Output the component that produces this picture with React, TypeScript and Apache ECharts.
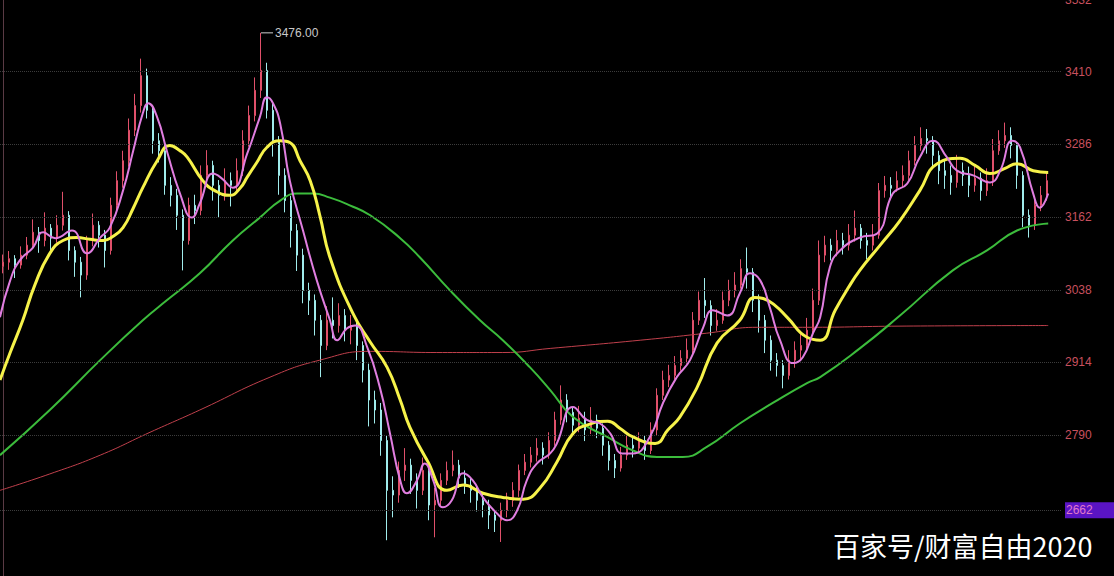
import React, { useEffect, useRef } from "react";
import * as echarts from "echarts";

// Right-axis tick labels (price)
const yTicks = [3532, 3410, 3286, 3162, 3038, 2914, 2790, 2662];
const gridValues = [3410, 3286, 3162, 3038, 2914, 2790, 2662];
const lowMarkValue = 2662;
const yMin = 2550;
const yMax = 3532;
const slotCount = 177;
const peakIndex = 43;
const peakValue = 3476;
const watermark = "百家号/财富自由2020";

// Daily candles: [open, close, low, high]
const candles = [
  [3078, 3085, 3066, 3098], [3085, 3091, 3072, 3104], [3091, 3080, 3058, 3097], [3080, 3097, 3074, 3112],
  [3097, 3114, 3090, 3128], [3114, 3136, 3108, 3158], [3136, 3122, 3101, 3145], [3122, 3143, 3112, 3170],
  [3143, 3126, 3105, 3150], [3126, 3148, 3118, 3165], [3148, 3165, 3139, 3205], [3165, 3105, 3088, 3172],
  [3105, 3085, 3060, 3112], [3085, 3063, 3025, 3094], [3063, 3122, 3055, 3130], [3122, 3148, 3112, 3168],
  [3148, 3131, 3110, 3155], [3131, 3105, 3076, 3140], [3105, 3182, 3098, 3195], [3182, 3224, 3170, 3240],
  [3224, 3258, 3212, 3275], [3258, 3310, 3248, 3330], [3310, 3352, 3300, 3372], [3352, 3403, 3340, 3432],
  [3403, 3344, 3330, 3415], [3344, 3292, 3270, 3352], [3292, 3275, 3255, 3305], [3275, 3216, 3200, 3285],
  [3216, 3199, 3180, 3230], [3199, 3165, 3140, 3210], [3165, 3122, 3071, 3175], [3122, 3182, 3115, 3195],
  [3182, 3173, 3150, 3200], [3173, 3233, 3165, 3250], [3233, 3250, 3225, 3276], [3250, 3216, 3190, 3258],
  [3216, 3199, 3162, 3225], [3199, 3224, 3190, 3245], [3224, 3216, 3180, 3238], [3216, 3241, 3205, 3262],
  [3241, 3292, 3232, 3310], [3292, 3335, 3282, 3352], [3335, 3378, 3325, 3400], [3378, 3412, 3365, 3476],
  [3412, 3344, 3330, 3425], [3344, 3292, 3265, 3355], [3292, 3233, 3200, 3300], [3233, 3190, 3170, 3245],
  [3190, 3139, 3110, 3198], [3139, 3097, 3070, 3150], [3097, 3037, 3015, 3108], [3037, 3020, 2995, 3050],
  [3020, 2986, 2960, 3030], [2986, 2943, 2889, 2995], [2943, 2986, 2935, 3010], [2986, 2977, 2955, 3025],
  [2977, 2994, 2965, 3015], [2994, 2969, 2950, 3005], [2969, 2977, 2945, 2995], [2977, 2943, 2918, 2985],
  [2943, 2901, 2880, 2950], [2901, 2850, 2805, 2912], [2850, 2833, 2810, 2866], [2833, 2781, 2755, 2845],
  [2781, 2696, 2611, 2790], [2696, 2688, 2650, 2720], [2688, 2730, 2675, 2745], [2730, 2739, 2712, 2768],
  [2739, 2713, 2690, 2750], [2713, 2696, 2665, 2725], [2696, 2730, 2688, 2752], [2730, 2671, 2645, 2738],
  [2671, 2679, 2616, 2700], [2679, 2713, 2670, 2725], [2713, 2730, 2705, 2745], [2730, 2739, 2720, 2764],
  [2739, 2717, 2700, 2748], [2717, 2705, 2690, 2730], [2705, 2696, 2675, 2718], [2696, 2679, 2660, 2705],
  [2679, 2671, 2650, 2690], [2671, 2654, 2630, 2680], [2654, 2645, 2625, 2662], [2645, 2662, 2608, 2675],
  [2662, 2679, 2650, 2692], [2679, 2696, 2668, 2710], [2696, 2730, 2685, 2740], [2730, 2744, 2722, 2758],
  [2744, 2756, 2735, 2770], [2756, 2768, 2745, 2785], [2768, 2756, 2740, 2778], [2756, 2781, 2750, 2795],
  [2781, 2816, 2772, 2830], [2816, 2850, 2808, 2875], [2850, 2829, 2812, 2860], [2829, 2807, 2790, 2838],
  [2807, 2819, 2795, 2840], [2819, 2799, 2780, 2830], [2799, 2816, 2792, 2838], [2816, 2802, 2785, 2825],
  [2802, 2773, 2755, 2810], [2773, 2747, 2730, 2780], [2747, 2734, 2717, 2758], [2734, 2756, 2728, 2770],
  [2756, 2773, 2748, 2790], [2773, 2768, 2752, 2788], [2768, 2781, 2760, 2795], [2781, 2764, 2748, 2790],
  [2764, 2799, 2758, 2812], [2799, 2858, 2790, 2870], [2858, 2884, 2850, 2900], [2884, 2892, 2872, 2910],
  [2892, 2909, 2885, 2925], [2909, 2921, 2900, 2935], [2921, 2935, 2912, 2955], [2935, 2986, 2928, 3000],
  [2986, 3020, 2978, 3035], [3020, 3011, 2990, 3058], [3011, 2977, 2960, 3020], [2977, 2986, 2968, 3005],
  [2986, 3020, 2980, 3035], [3020, 3037, 3010, 3055], [3037, 3046, 3025, 3068], [3046, 3074, 3040, 3090],
  [3074, 3068, 3040, 3110], [3068, 3020, 3000, 3075], [3020, 2986, 2965, 3030], [2986, 2952, 2930, 2995],
  [2952, 2918, 2900, 2960], [2918, 2909, 2890, 2930], [2909, 2892, 2870, 2918], [2892, 2918, 2885, 2935],
  [2918, 2935, 2905, 2950], [2935, 2943, 2920, 2965], [2943, 2969, 2935, 2990], [2969, 3020, 2960, 3040],
  [3020, 3097, 3012, 3122], [3097, 3114, 3085, 3130], [3114, 3105, 3088, 3125], [3105, 3122, 3095, 3140],
  [3122, 3114, 3098, 3135], [3114, 3131, 3105, 3150], [3131, 3143, 3120, 3173], [3143, 3122, 3108, 3150],
  [3122, 3114, 3090, 3135], [3114, 3131, 3105, 3150], [3131, 3207, 3125, 3220], [3207, 3216, 3195, 3232],
  [3216, 3211, 3195, 3230], [3211, 3224, 3205, 3240], [3224, 3233, 3212, 3250], [3233, 3258, 3225, 3275],
  [3258, 3284, 3250, 3300], [3284, 3296, 3275, 3315], [3296, 3292, 3270, 3312], [3292, 3267, 3248, 3300],
  [3267, 3241, 3218, 3275], [3241, 3233, 3210, 3260], [3233, 3221, 3200, 3250], [3221, 3241, 3212, 3268],
  [3241, 3233, 3215, 3255], [3233, 3216, 3196, 3248], [3216, 3228, 3205, 3252], [3228, 3207, 3190, 3238],
  [3207, 3224, 3198, 3245], [3224, 3275, 3215, 3295], [3275, 3292, 3268, 3310], [3292, 3301, 3280, 3323],
  [3301, 3284, 3262, 3315], [3284, 3233, 3210, 3290], [3233, 3165, 3145, 3240], [3165, 3148, 3127, 3175],
  [3148, 3182, 3140, 3195], [3182, 3199, 3172, 3215], [3199, 3224, 3190, 3240],
];

// Moving averages: [day index, price]
const maShort = [
  [-0.5, 2991], [1.2, 3054], [2.8, 3088], [5, 3110], [6.7, 3136], [8.7, 3126], [11.5, 3139], [14, 3100],
  [16.2, 3127], [17.8, 3144], [20, 3207], [21.7, 3275], [23.3, 3339], [24.2, 3356], [25.7, 3332], [27.3, 3275],
  [29.5, 3202], [31.5, 3161], [32.8, 3185], [35, 3236], [36.2, 3230], [38.3, 3212], [40.7, 3270], [42.8, 3332],
  [44, 3366], [45, 3356], [46.2, 3321], [47.8, 3224], [50, 3139], [52.3, 3054], [54.5, 2986], [55.7, 2952],
  [57.3, 2972], [58.7, 2977], [60.7, 2940], [62.8, 2872], [64.5, 2793], [66.2, 2713], [67.3, 2691], [69, 2713],
  [70.3, 2742], [71.7, 2713], [73.3, 2667], [74.8, 2679], [76.7, 2725], [78.3, 2713], [80, 2684], [82.3, 2657],
  [84, 2645], [85.7, 2662], [87.3, 2713], [89, 2742], [91.2, 2759], [92.3, 2776], [95, 2838], [97.3, 2816],
  [99.5, 2810], [101.2, 2793], [103.2, 2759], [105, 2759], [107.8, 2787], [110, 2845], [112.3, 2889], [114.5, 2918],
  [116.7, 2974], [118.3, 3003], [120.7, 2994], [122.8, 3032], [124.5, 3066], [126.2, 3054], [127.8, 3008], [129.5, 2952],
  [131.7, 2913], [133.3, 2923], [135, 2964], [136.2, 2991], [137.8, 3076], [139.5, 3105], [142.8, 3127], [145.7, 3134],
  [148.3, 3202], [150.7, 3219], [152.8, 3264], [155, 3292], [157.3, 3264], [159, 3241], [161.7, 3233], [164.5, 3221],
  [166.2, 3241], [168.2, 3292], [169.5, 3281], [171.7, 3202], [172.8, 3178], [174.2, 3202],
];
const maMid = [
  [-0.5, 2884], [1.2, 2931], [3.3, 2986], [5.3, 3046], [7.8, 3100], [10, 3122], [12.3, 3127], [14.5, 3124],
  [16.7, 3122], [18.3, 3129], [20, 3144], [21.7, 3177], [23.3, 3212], [25.7, 3258], [27.8, 3284], [29.5, 3275],
  [30.7, 3264], [33.3, 3224], [35.3, 3207], [37.8, 3199], [39.5, 3211], [40.7, 3230], [42.3, 3255], [44, 3281],
  [46.2, 3292], [47.8, 3289], [49.5, 3258], [51.2, 3224], [52.8, 3165], [54.5, 3093], [58.3, 2998], [61.2, 2949],
  [64, 2906], [66.2, 2850], [67.8, 2804], [70.7, 2747], [74, 2696], [76.7, 2705], [80, 2691], [83.3, 2684],
  [86.7, 2681], [89.5, 2700], [92.3, 2744], [95, 2793], [97.8, 2809], [100.8, 2814], [102.8, 2802], [105, 2787],
  [108.7, 2776], [110.8, 2799], [112.8, 2821], [115.7, 2872], [119, 2947], [122.8, 2986], [125.3, 3025], [126.7, 3023],
  [128.7, 3011], [130.7, 2991], [134, 2957], [136.2, 2952], [138.7, 3003], [140.8, 3040], [142.8, 3071], [146.2, 3114],
  [149.5, 3156], [152.8, 3207], [155.7, 3253], [159.5, 3262], [162, 3250], [164.5, 3236], [167, 3245], [169, 3253],
  [171.7, 3241], [174.2, 3238],
];
const maLong = [
  [-0.5, 2756], [7.8, 2833], [16.2, 2918], [23.3, 2986], [27.3, 3020], [32.8, 3066], [38.3, 3122], [42.8, 3161],
  [46.2, 3190], [49, 3202], [51.7, 3202], [54.5, 3195], [57.8, 3182], [61.2, 3165], [66.2, 3126], [69.5, 3093],
  [74.5, 3037], [79.5, 2986], [83.3, 2952], [87.8, 2906], [91.2, 2867], [95, 2821], [100.7, 2787], [105, 2764],
  [109, 2753], [113.3, 2753], [117.3, 2770], [122.8, 2810], [128.3, 2845], [134, 2879], [136.2, 2889], [142.8, 2938],
  [149.5, 2994], [158.3, 3071], [164, 3105], [169, 3139], [174.2, 3151],
];
const maYear = [
  [-0.5, 2696], [7.8, 2724], [16.2, 2756], [24.5, 2795], [32.8, 2833], [44.5, 2889], [52.8, 2918], [61.2, 2933],
  [72.3, 2931], [83.3, 2931], [91.2, 2938], [106.2, 2952], [117.3, 2964], [125.7, 2974], [134, 2974], [149.5, 2976],
  [174.2, 2977],
];

export default function App() {
  const ref = useRef<HTMLDivElement>(null);
  useEffect(() => {
    const chart = echarts.init(ref.current as HTMLDivElement, null, { renderer: "svg" });
    const days = Array.from({ length: slotCount }, (_, i) => String(i + 1));
    const lineSeries = (data: number[][], color: string, width: number, z: number) => ({
      type: "line",
      xAxisIndex: 1,
      yAxisIndex: 0,
      data,
      smooth: 0.5,
      showSymbol: false,
      symbol: "none",
      silent: true,
      z,
      lineStyle: { color, width },
    });
    chart.setOption({
      animation: false,
      backgroundColor: "#000000",
      grid: { left: 0, right: 52, top: 0, bottom: 0, outerBoundsMode: "none", containLabel: false },
      xAxis: [
        { type: "category", data: days, boundaryGap: true, show: false },
        { type: "value", min: -0.5, max: slotCount - 0.5, show: false },
      ],
      yAxis: {
        type: "value",
        position: "right",
        min: yMin,
        max: yMax,
        splitLine: { show: false },
        axisLine: { show: true, lineStyle: { color: "#5a3a44", width: 1 } },
        axisTick: { show: false },
        axisLabel: {
          customValues: yTicks,
          margin: 3,
          color: "#c8505e",
          fontSize: 12,
          fontFamily: "Liberation Sans, Arial, sans-serif",
          verticalAlignMaxLabel: "middle",
          verticalAlignMinLabel: "middle",
          formatter: (v: number) => (v === lowMarkValue ? `{hl|${v}}` : `${v}`),
          rich: {
            hl: {
              backgroundColor: "#5a14c4",
              color: "#e07ac8",
              fontSize: 12,
              fontFamily: "Liberation Sans, Arial, sans-serif",
              padding: [2, 22, 2, 1],
            },
          },
        },
      },
      graphic: [
        {
          type: "text",
          x: 833,
          y: 545,
          z: 100,
          style: {
            text: watermark,
            fill: "#ffffff",
            font: '27px "Noto Sans CJK SC", sans-serif',
            verticalAlign: "middle",
            align: "left",
          },
        },
      ],
      series: [
        {
          type: "candlestick",
          xAxisIndex: 0,
          yAxisIndex: 0,
          data: candles,
          barWidth: 2,
          z: 2,
          itemStyle: {
            color: "#e0506a",
            color0: "#a0ecec",
            borderColor: "#e0506a",
            borderColor0: "#a0ecec",
            borderWidth: 1,
          },
          markLine: {
            silent: true,
            symbol: ["none", "none"],
            label: { show: false },
            lineStyle: { type: "dotted", color: "#3c3c3c", width: 1 },
            data: gridValues.map((v) => ({ yAxis: v })),
          },
          markPoint: {
            silent: true,
            symbol: "rect",
            symbolSize: [12, 1],
            symbolOffset: [6, 0],
            itemStyle: { color: "#d0d0d0" },
            label: {
              show: true,
              position: "right",
              distance: 2,
              formatter: peakValue.toFixed(2),
              color: "#c8c8c8",
              fontSize: 12,
              fontFamily: "Liberation Sans, Arial, sans-serif",
            },
            data: [{ coord: [peakIndex, peakValue] }],
          },
        },
        lineSeries(maYear, "#c0404c", 1, 3),
        lineSeries(maLong, "#3cbc3c", 2, 4),
        lineSeries(maMid, "#f6f24a", 3, 5),
        lineSeries(maShort, "#e07ee0", 2, 6),
      ],
    });
    return () => chart.dispose();
  }, []);
  return (
    <div
      ref={ref}
      style={{ position: "absolute", left: 0, top: 0, width: 1114, height: 576, background: "#000" }}
    />
  );
}
